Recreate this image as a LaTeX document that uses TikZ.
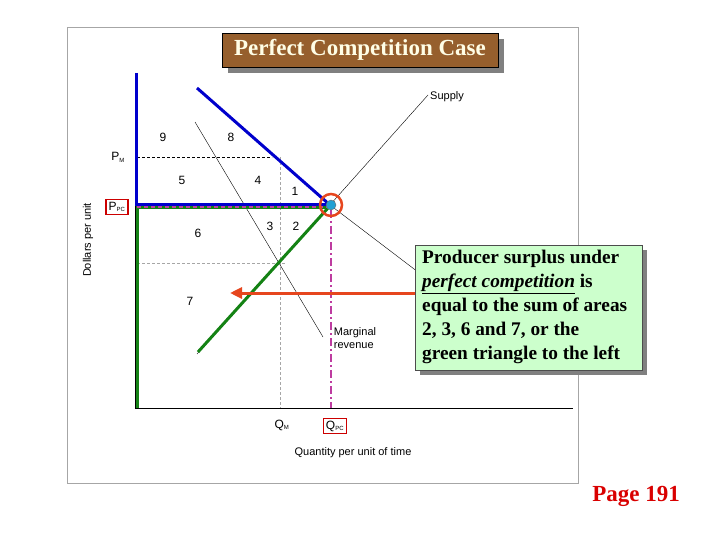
\documentclass[tikz,border=0pt]{standalone}
\usepackage{fontspec}
\setmainfont{Liberation Serif}
\setsansfont{Liberation Sans}
\usetikzlibrary{arrows.meta}
\definecolor{brownbox}{RGB}{150,95,45}
\definecolor{lgreen}{RGB}{204,255,204}
\definecolor{dgreen}{RGB}{20,130,20}
\definecolor{oarrow}{RGB}{230,70,30}
\definecolor{mag}{RGB}{190,60,160}
\tikzset{lab/.style={font=\sffamily\fontsize{12}{14}\selectfont},
 sm/.style={font=\sffamily\fontsize{11}{13}\selectfont},
 gdash/.style={gray!70,densely dashed,line width=0.5pt}}
\newcommand{\sbs}[1]{\textsubscript{\fontsize{6}{7}\selectfont #1}}
\begin{document}
\begin{tikzpicture}[x=1pt,y=-1pt]
\useasboundingbox (0,0) rectangle (720,540);
\draw[gray!70] (67,27) rectangle (578,483);
% dashed guides
\draw[densely dashed,black] (137,157) -- (272,157);
\draw[gdash] (280,157) -- (280,408);
\draw[gdash] (137,263) -- (285,263);
% axes
\draw[line width=1pt] (135,73) -- (135,408) -- (573,408);
% lines
\draw (195,122) -- (323,337);
\draw (330,205) -- (418,272);
\draw (197,354) -- (428,95);
% green
\draw[dgreen,line width=3pt] (137,408) -- (137,208) -- (328,208);
\draw[dgreen,line width=3pt] (198,352) -- (328,208);
% blue
\draw[blue!80!black,line width=3pt] (136,73) -- (136,205) -- (330,205);
\draw[blue!80!black,line width=3pt] (197,88) -- (330,205);
\draw[mag,line width=1.2pt,dash pattern=on 4pt off 3pt] (137,207) -- (328,207);
\draw[mag,line width=2pt,dash pattern=on 8pt off 3pt on 2pt off 3pt] (331,210) -- (331,408);
\node[circle,draw=oarrow,line width=2.5pt,minimum size=22pt,inner sep=0pt] (c) at (331,205) {};
\node[circle,fill=cyan!70!teal,draw=black!60,minimum size=10pt,inner sep=0pt] (d) at (331,205) {};
% labels
\node[lab] (n9) at (163,137) {9};
\node[lab] (n8) at (231,137) {8};
\node[lab] (n5) at (182,180) {5};
\node[lab] (n4) at (258,180) {4};
\node[lab] (n1) at (295,191) {1};
\node[lab] (n3) at (270,226) {3};
\node[lab] (n2) at (296,226) {2};
\node[lab] (n6) at (198,233) {6};
\node[lab] (n7) at (190,301) {7};
\node[lab] (pm) at (118,157) {P\sbs{M}};
\node[lab,draw=red!80!black,line width=1.2pt,inner sep=2.5pt] (ppc) at (117,207) {P\sbs{PC}};
\node[sm,align=left,inner sep=0pt,fill=white] (mr) at (355,338) {Marginal\\revenue};
\node[lab] (qm) at (282,425) {Q\sbs{M}};
\node[lab,draw=red!80!black,line width=1.2pt,inner sep=2.5pt] (qpc) at (335,426) {Q\sbs{PC}};
\node[sm] (xl) at (353,453) {Quantity per unit of time};
\node[sm,rotate=90] (yl) at (88,240) {Dollars per unit};
\node[sm] (sup) at (447,97) {Supply};
% title
\fill[gray] (228,39) rectangle (504,73);
\node[draw=black,fill=brownbox,minimum width=276pt,minimum height=34pt,inner sep=0pt,text=white!90!yellow,font=\bfseries\fontsize{23}{25}\selectfont] (t) at (360,50) {Perfect Competition Case};
% text box
\fill[gray] (420,250) rectangle (647,375);
\node[draw=black!70,fill=lgreen,minimum width=227pt,minimum height=125pt,inner sep=0pt] (box) at (528.5,307.5) {};
\node[anchor=north west,align=left,font=\bfseries\fontsize{19.3}{24}\selectfont,inner sep=0pt] (bt) at (422,250) {Producer surplus under\\\underline{\itshape perfect competition} is\\equal to the sum of areas\\2, 3, 6 and 7, or the\\green triangle to the left};
\coordinate (ae) at (230,293);
\draw[oarrow,line width=3pt,-{Triangle[length=12pt,width=11pt]}] (box.west |- ae) -- (ae);
\node[text=red!85!black,font=\bfseries\fontsize{23}{25}\selectfont] (pg) at (636,496) {Page 191};
\end{tikzpicture}
\end{document}
